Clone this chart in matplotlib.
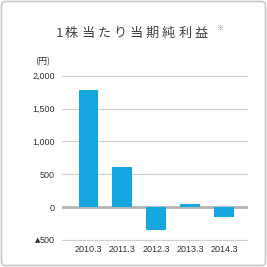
import matplotlib.pyplot as plt
from matplotlib.patches import FancyBboxPatch

plt.rcParams['font.family'] = ['Noto Sans CJK JP', 'DejaVu Sans']

YEARS = ['2010.3', '2011.3', '2012.3', '2013.3', '2014.3']
EPS = [1790, 610, -350, 55, -150]
YTICKS = [-500, 0, 500, 1000, 1500, 2000]
YLABELS = ['500', '0', '500', '1,000', '1,500', '2,000']   # ▲ added separately for -500
TITLE = '1株当たり当期純利益'

W = H = 267
NUMFONT = ['Liberation Sans', 'DejaVu Sans']
fig = plt.figure(figsize=(W / 100, H / 100), dpi=100)
fig.patch.set_facecolor('white')

# rounded outer frame
frame = FancyBboxPatch((1.5 / W, 1.5 / H), (W - 3) / W, (H - 3) / H,
                       boxstyle='round,pad=0,rounding_size=0.015',
                       transform=fig.transFigure, fill=False,
                       edgecolor='#c8c8c8', linewidth=1.2)
fig.patches.append(frame)

# axes placed in pixel terms
top_px, bot_px = 74.4, 241.3
ax = fig.add_axes([62 / W, (H - bot_px) / H, (248 - 62) / W, (bot_px - top_px) / H])
ax.set_ylim(-520, 2020)
ax.set_xlim(-0.78, 4.71)

for t in YTICKS:
    if t == 0:
        ax.axhline(t, color='#b4b4b4', linewidth=2.0, zorder=1.5)
    else:
        ax.axhline(t, color='#cfcfcf', linewidth=0.9, zorder=1)

ax.bar(range(len(YEARS)), EPS, width=0.58, color='#15a7df', zorder=2)

for s in ax.spines.values():
    s.set_visible(False)
ax.set_yticks(YTICKS)
ax.set_yticklabels(YLABELS, fontsize=6.5, color='#333333', family=NUMFONT)
ax.set_xticks(range(len(YEARS)))
ax.set_xticklabels(YEARS, fontsize=6.5, color='#333333', family=NUMFONT)
ax.tick_params(axis='both', length=0)
ax.tick_params(axis='y', pad=5)
ax.tick_params(axis='x', pad=3)
ax.set_facecolor('none')

# small triangle marking the negative tick
fig.text(38 / W, 1 - 240.5 / H, '▲', fontsize=5, color='#333333',
         family=['DejaVu Sans'], ha='center', va='center')

fig.text(42.5 / W, 1 - 62 / H, '(円)', fontsize=6.5, color='#333333',
         ha='center', va='center')

# title drawn one character at a time for the wide letter spacing
fig.text(59 / W, 1 - 33.5 / H, TITLE[0], fontsize=9.5, color='#444444',
         ha='center', va='center')
for i, ch in enumerate(TITLE[1:]):
    fig.text((71.5 + i * 16.2) / W, 1 - 33.5 / H, ch, fontsize=9.5,
             color='#444444', ha='center', va='center')
fig.text(219.5 / W, 1 - 28.5 / H, '※', fontsize=5, color='#777777',
         ha='center', va='center')

fig.savefig('out.png', dpi=100, facecolor='white')
